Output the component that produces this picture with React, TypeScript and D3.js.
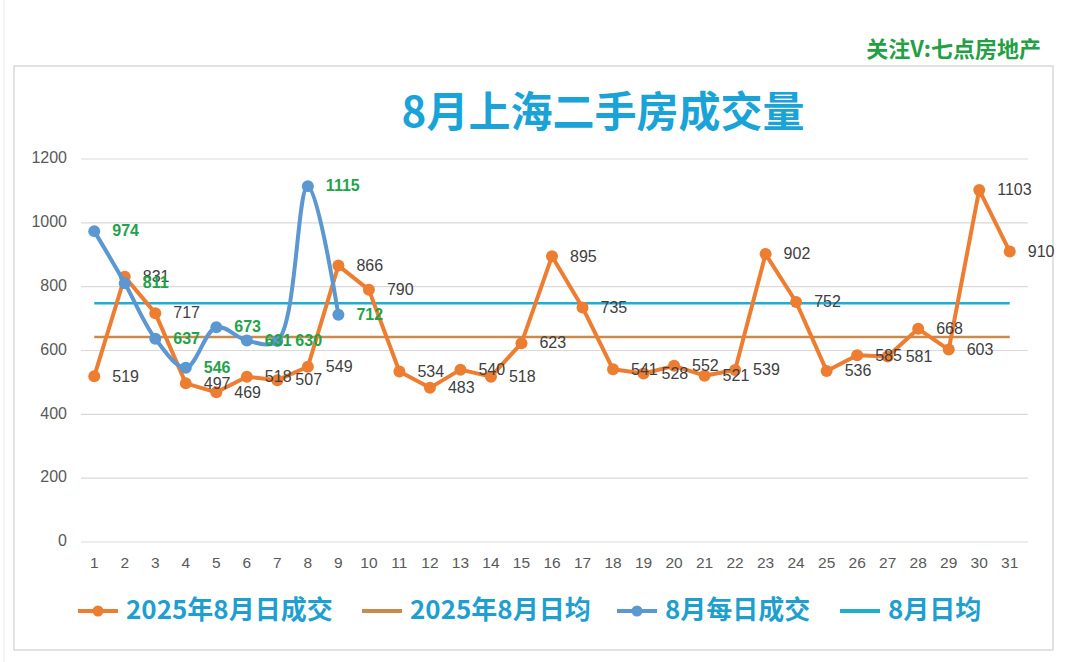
import { useEffect, useRef } from "react"
import * as d3 from "d3"

// x categories: days of August
const days = d3.range(1, 32).map(String)

// 2025年8月日成交
const dailyDeals = [
  519, 831, 717, 497, 469, 518, 507, 549, 866, 790, 534, 483, 540, 518, 623, 895,
  735, 541, 528, 552, 521, 539, 902, 752, 536, 585, 581, 668, 603, 1103, 910,
]

// 8月每日成交 (only first 9 days)
const augDaily = [974, 811, 637, 546, 673, 631, 630, 1115, 712]

// averages (flat lines)
const dailyAvg = 642
const augAvg = 748

const yTicks = [0, 200, 400, 600, 800, 1000, 1200]

const legendItems = [
  { label: "2025年8月日成交", color: "#ED7D31", marker: true },
  { label: "2025年8月日均", color: "#C98A4B", marker: false },
  { label: "8月每日成交", color: "#5B97D0", marker: true },
  { label: "8月日均", color: "#1FADD2", marker: false },
]

const NUM_FONT = "'Liberation Sans', Arial, sans-serif"
const CJK_FONT = "'Noto Sans CJK SC', 'Liberation Sans', sans-serif"

export default function App() {
  const svgRef = useRef<SVGSVGElement>(null)

  useEffect(() => {
    if (!svgRef.current) return
    const svg = d3.select(svgRef.current)
    svg.selectAll("*").remove()

    const W = 1080
    const H = 662

    svg.append("rect").attr("width", W).attr("height", H).attr("fill", "#fff")

    // faint spreadsheet edge on the left
    svg.append("line").attr("x1", 4).attr("x2", 4).attr("y1", 0).attr("y2", H)
      .attr("stroke", "#ececec").attr("stroke-width", 1)

    // watermark
    svg.append("text")
      .attr("x", 1041).attr("y", 51)
      .attr("text-anchor", "end").attr("dominant-baseline", "middle")
      .attr("font-family", CJK_FONT).attr("font-weight", 700).attr("font-size", 22)
      .attr("fill", "#22A043")
      .text("关注V:七点房地产")

    // chart frame
    svg.append("rect")
      .attr("x", 14).attr("y", 66).attr("width", 1039).attr("height", 584)
      .attr("fill", "#fff").attr("stroke", "#d9d9d9").attr("stroke-width", 1.5)

    // title
    svg.append("text")
      .attr("x", 603).attr("y", 116)
      .attr("text-anchor", "middle").attr("dominant-baseline", "middle")
      .attr("font-family", CJK_FONT).attr("font-weight", 700).attr("font-size", 42)
      .attr("fill", "#1AA3D6")
      .text("8月上海二手房成交量")

    const x = d3.scaleBand().domain(days).range([79, 1025])
    const cx = (d: string) => (x(d) ?? 0) + x.bandwidth() / 2
    const y = d3.scaleLinear().domain([0, 1200]).range([542, 159])

    // gridlines
    svg.append("g")
      .selectAll("line")
      .data(yTicks)
      .join("line")
      .attr("x1", 81).attr("x2", 1028)
      .attr("y1", (d) => y(d)).attr("y2", (d) => y(d))
      .attr("stroke", "#d9d9d9").attr("stroke-width", 1.2)

    // y tick labels
    svg.append("g")
      .selectAll("text")
      .data(yTicks)
      .join("text")
      .attr("x", 67).attr("y", (d) => y(d))
      .attr("text-anchor", "end").attr("dominant-baseline", "middle")
      .attr("font-family", NUM_FONT).attr("font-size", 16).attr("fill", "#595959")
      .text((d) => d)

    // x tick labels
    svg.append("g")
      .selectAll("text")
      .data(days)
      .join("text")
      .attr("x", (d) => cx(d)).attr("y", 564)
      .attr("text-anchor", "middle").attr("dominant-baseline", "middle")
      .attr("font-family", NUM_FONT).attr("font-size", 15.5).attr("fill", "#595959")
      .text((d) => d)

    // average lines
    const flat = d3.line<string>().x((d) => cx(d))
    svg.append("path")
      .attr("d", flat.y(() => y(dailyAvg))(days))
      .attr("fill", "none").attr("stroke", "#C98A4B").attr("stroke-width", 2.5)
    svg.append("path")
      .attr("d", flat.y(() => y(augAvg))(days))
      .attr("fill", "none").attr("stroke", "#1FADD2").attr("stroke-width", 2.5)

    // orange daily series
    const orangeData = dailyDeals.map((v, i) => ({ day: days[i], v }))
    const orangeLine = d3.line<{ day: string; v: number }>()
      .x((d) => cx(d.day)).y((d) => y(d.v))
    svg.append("path")
      .datum(orangeData)
      .attr("fill", "none").attr("stroke", "#ED7D31").attr("stroke-width", 4)
      .attr("stroke-linejoin", "round")
      .attr("d", orangeLine)
    svg.append("g")
      .selectAll("circle")
      .data(orangeData)
      .join("circle")
      .attr("cx", (d) => cx(d.day)).attr("cy", (d) => y(d.v)).attr("r", 6)
      .attr("fill", "#ED7D31")

    // blue smoothed series
    const blueData = augDaily.map((v, i) => ({ day: days[i], v }))
    const blueLine = d3.line<{ day: string; v: number }>()
      .x((d) => cx(d.day)).y((d) => y(d.v))
      .curve(d3.curveCatmullRom.alpha(0.5))
    svg.append("path")
      .datum(blueData)
      .attr("fill", "none").attr("stroke", "#5B97D0").attr("stroke-width", 4)
      .attr("d", blueLine)
    svg.append("g")
      .selectAll("circle")
      .data(blueData)
      .join("circle")
      .attr("cx", (d) => cx(d.day)).attr("cy", (d) => y(d.v)).attr("r", 6)
      .attr("fill", "#5B97D0")

    // orange labels
    svg.append("g")
      .selectAll("text")
      .data(orangeData)
      .join("text")
      .attr("x", (d) => cx(d.day) + 18).attr("y", (d) => y(d.v) + 1)
      .attr("dominant-baseline", "middle")
      .attr("font-family", NUM_FONT).attr("font-size", 16).attr("fill", "#404040")
      .text((d) => d.v)

    // blue labels (green bold)
    svg.append("g")
      .selectAll("text")
      .data(blueData)
      .join("text")
      .attr("x", (d) => cx(d.day) + 18).attr("y", (d) => y(d.v) + 1)
      .attr("dominant-baseline", "middle")
      .attr("font-family", NUM_FONT).attr("font-weight", 700).attr("font-size", 16)
      .attr("fill", "#22A34A")
      .text((d) => d.v)

    // legend
    const legendX = [78, 362, 617, 840]
    const ly = 611
    const lg = svg.append("g")
    legendItems.forEach((item, i) => {
      const x0 = legendX[i]
      lg.append("line")
        .attr("x1", x0).attr("x2", x0 + 40).attr("y1", ly).attr("y2", ly)
        .attr("stroke", item.color).attr("stroke-width", 4)
      if (item.marker) {
        lg.append("circle").attr("cx", x0 + 20).attr("cy", ly).attr("r", 5.5)
          .attr("fill", item.color)
      }
      lg.append("text")
        .attr("x", x0 + 48).attr("y", ly + 1)
        .attr("dominant-baseline", "middle")
        .attr("font-family", CJK_FONT).attr("font-weight", 700).attr("font-size", 26)
        .attr("fill", "#1E9FCF")
        .text(item.label)
    })
  }, [])

  return (
    <svg
      ref={svgRef}
      width={1080}
      height={662}
      style={{ position: "fixed", left: 0, top: 0, display: "block" }}
    />
  )
}
